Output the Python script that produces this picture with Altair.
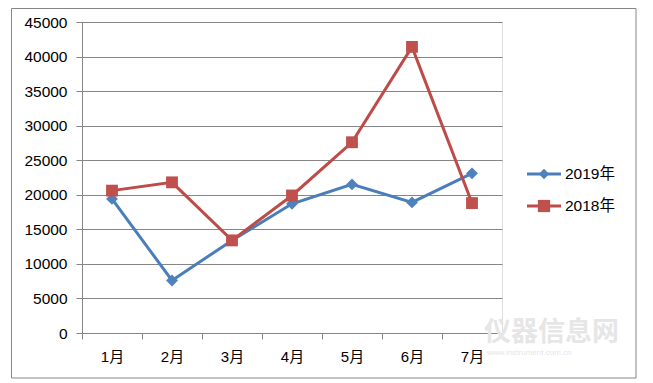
import altair as alt
import pandas as pd

months = ["1月", "2月", "3月", "4月", "5月", "6月", "7月"]
series = ["2019年", "2018年"]
v2019 = [19400, 7600, 13400, 18700, 21500, 18900, 23100]
v2018 = [20600, 21800, 13400, 19900, 27600, 41400, 18800]
line_colors = ["#4A7EBB", "#BE4B48"]
marker_colors = ["#4F81BD", "#C0504D"]
shapes = ["diamond", "square"]
y_ticks = list(range(0, 45001, 5000))

rows = []
for s, vals in zip(series, [v2019, v2018]):
    for m, v in zip(months, vals):
        rows.append({"month": m, "series": s, "value": v})
df = pd.DataFrame(rows)

FONT = "Liberation Sans, Noto Sans CJK SC"
W, H = 420, 311

x_enc = alt.X("month:N", sort=months, bandPosition=0.5,
              scale=alt.Scale(type="band", paddingInner=0, paddingOuter=0),
              axis=alt.Axis(title=None, tickBand="extent", grid=False,
                            domainColor="#868686", tickColor="#868686",
                            tickSize=6, labelPadding=10, labelAngle=0,
                            labelFont=FONT, labelFontSize=15, labelColor="#000000"))
y_enc = alt.Y("value:Q", scale=alt.Scale(domain=[0, 45000], nice=False),
              axis=alt.Axis(title=None, values=y_ticks, grid=True, format="d",
                            gridColor="#868686", gridWidth=1,
                            domainColor="#868686", tickColor="#868686",
                            tickSize=6, labelPadding=9,
                            labelFont=FONT, labelFontSize=15.5, labelColor="#000000"))

color_scale = alt.Scale(domain=series, range=line_colors)
fill_scale = alt.Scale(domain=series, range=marker_colors)
shape_scale = alt.Scale(domain=series, range=shapes)

base = alt.Chart(df)
layers = []
for i, s in enumerate(series):
    sub = base.transform_filter(alt.datum.series == s)
    layers.append(sub.mark_line(strokeWidth=3).encode(
        x=x_enc, y=y_enc,
        color=alt.Color("series:N", scale=color_scale, legend=None)))
    layers.append(sub.mark_point(filled=True, size=140, opacity=1).encode(
        x=x_enc, y=y_enc,
        fill=alt.Fill("series:N", scale=fill_scale, legend=None),
        shape=alt.Shape("series:N", scale=shape_scale, legend=None)))

# manual legend
leg = alt.Chart(pd.DataFrame({"series": series}))
for i, s in enumerate(series):
    yy = 152 + 32 * i
    sub = leg.transform_filter(alt.datum.series == s)
    layers.append(sub.mark_rule(strokeWidth=3, color=line_colors[i]).encode(
        x=alt.value(445), x2=alt.value(479), y=alt.value(yy)))
    layers.append(sub.mark_point(filled=True, opacity=1, shape=shapes[i],
                                 size=110 if i == 0 else 150,
                                 color=marker_colors[i]).encode(
        x=alt.value(462), y=alt.value(yy)))
    layers.append(sub.mark_text(align="left", baseline="middle", font=FONT,
                                fontSize=15.5, color="#000000").encode(
        x=alt.value(483), y=alt.value(yy), text="series:N"))

# watermark
wm = alt.Chart(pd.DataFrame({"t": ["仪器信息网"], "u": ["www.instrument.com.cn"]}))
layers.append(wm.mark_text(align="left", baseline="middle", font="Noto Sans CJK SC",
                           fontSize=27, fontWeight="bold", color="#e6e6e6").encode(
    x=alt.value(402), y=alt.value(311), text="t:N"))
layers.append(wm.mark_text(align="left", baseline="middle", font=FONT,
                           fontSize=8, color="#e6e6e6").encode(
    x=alt.value(405), y=alt.value(331), text="u:N"))

# outer border
layers.append(alt.Chart(pd.DataFrame({"a": [0]})).mark_rect(
    fill="transparent", stroke="#868686", strokeWidth=1).encode(
    x=alt.value(-70.5), x2=alt.value(554), y=alt.value(-13.5), y2=alt.value(356)))

chart = alt.layer(*layers).properties(
    width=W, height=H,
    autosize=alt.AutoSizeParams(type="none"),
    padding={"left": 74, "top": 14, "right": 143, "bottom": 46},
).configure_view(stroke=None).configure(background="#ffffff")

chart.save("out.html", embed_options={"renderer": "svg", "actions": False})
